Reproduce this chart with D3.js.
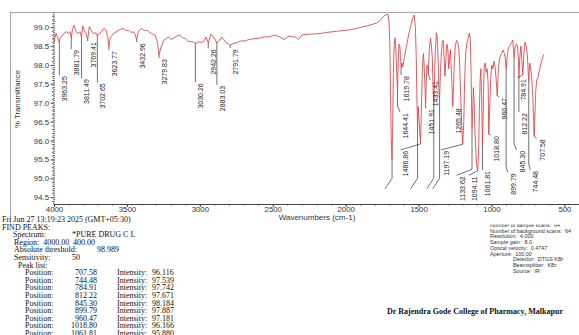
<!DOCTYPE html>
<html>
<head>
<meta charset="utf-8">
<script src="https://cdn.jsdelivr.net/npm/d3@7"></script>
<style>
  body { margin: 0; background: #fff; }
  svg { display: block; }
</style>
</head>
<body>
<script>
// ---- data ----
// spectrum trace: [wavenumber cm-1, %T]
const spectrum = [
  [4000, 98.60], [3996, 98.68], [3986, 98.84], [3977, 98.74], [3970, 98.66], [3963.25, 98.58],
  [3959, 98.71], [3947, 98.76], [3931, 98.84], [3913, 98.88], [3902, 98.83], [3890, 98.88],
  [3881.79, 98.71], [3872, 98.97], [3863, 99.05], [3849, 98.88], [3833, 98.83], [3822, 98.88],
  [3811.49, 98.74], [3803, 99.03], [3794, 98.92], [3781, 98.83], [3769.41, 98.67], [3758, 99.01],
  [3741, 98.88], [3726, 98.83], [3712, 98.85], [3702.65, 98.76], [3689, 98.83], [3673, 98.88],
  [3657, 98.97], [3643, 98.92], [3632, 98.75], [3623.77, 98.48], [3616, 98.70], [3593, 98.83],
  [3570, 98.88], [3547, 98.94], [3525, 98.97], [3505, 98.90], [3490, 98.92], [3470, 98.86],
  [3456, 98.88], [3443, 98.80], [3432.96, 98.67], [3424, 98.85], [3415, 98.92], [3398, 98.97],
  [3380, 98.90], [3364, 98.92], [3345, 98.86], [3330, 98.83], [3307, 98.79], [3291, 98.61],
  [3279.83, 98.26], [3268, 98.45], [3261, 98.52], [3246, 98.66], [3230, 98.70], [3216, 98.74],
  [3200, 98.68], [3182, 98.70], [3160, 98.76], [3136, 98.79], [3120, 98.72], [3101, 98.70],
  [3085, 98.64], [3067, 98.61], [3050, 98.62], [3030.26, 98.57], [3010, 98.61], [2990, 98.60],
  [2976, 98.61], [2957, 98.74], [2942.26, 98.57], [2925, 98.81], [2907, 98.74], [2893, 98.66],
  [2883.03, 98.58], [2870, 98.64], [2861, 98.66], [2850, 98.74], [2834, 98.66], [2815, 98.57],
  [2800, 98.55], [2791.79, 98.52], [2775, 98.56], [2759, 98.58], [2740, 98.60], [2713, 98.64],
  [2690, 98.63], [2667, 98.67], [2645, 98.68], [2621, 98.70], [2590, 98.71], [2553, 98.74],
  [2520, 98.75], [2484, 98.79], [2465, 98.76], [2450, 98.73], [2422, 98.67], [2405, 98.72],
  [2393, 98.76], [2370, 98.75], [2347, 98.74], [2335, 98.71], [2324, 98.67], [2301, 98.79],
  [2280, 98.80], [2256, 98.81], [2220, 98.82], [2176, 98.83], [2130, 98.86], [2084, 98.88],
  [2040, 98.90], [1992, 98.92], [1960, 98.94], [1924, 98.97], [1890, 99.00], [1855, 99.03],
  [1820, 99.07], [1787, 99.11], [1765, 99.17], [1752, 99.23], [1740, 99.28], [1730, 99.32],
  [1718, 99.33], [1710, 99.34], [1703, 99.15], [1697, 98.50], [1692, 97.20], [1688, 96.10],
  [1682, 95.48], [1678, 96.30], [1673, 97.80], [1667, 98.55], [1661, 98.72], [1655, 98.35],
  [1649, 97.70], [1644.41, 97.33], [1640, 98.00], [1634, 98.55], [1628, 98.48], [1624, 98.20],
  [1619.78, 97.92], [1614, 98.05], [1608, 97.95], [1600, 98.15], [1590, 98.35], [1578, 98.60],
  [1565, 98.85], [1552, 99.05], [1540, 99.25], [1530, 99.32], [1522, 99.00], [1516, 98.20],
  [1511, 97.00], [1507, 96.45], [1502, 96.90], [1496, 96.50], [1491, 96.15], [1486.86, 96.01],
  [1482, 96.60], [1477, 97.50], [1471, 98.10], [1466, 98.30], [1461, 97.90], [1456, 97.40],
  [1451.91, 96.95], [1447, 97.60], [1442, 98.00], [1437, 97.95], [1433.41, 97.78], [1429, 98.20],
  [1424, 98.55], [1418, 98.70], [1412, 98.50], [1406, 98.20], [1401, 97.40], [1396, 96.95],
  [1391, 97.60], [1385, 98.40], [1378, 98.85], [1372, 98.70], [1366, 98.10], [1361, 97.40],
  [1356, 97.10], [1350, 97.80], [1344, 98.30], [1338, 98.60], [1331, 98.65], [1325, 98.20],
  [1319, 97.70], [1313, 98.15], [1306, 98.55], [1299, 98.40], [1293, 97.90], [1288, 98.20],
  [1282, 98.40], [1277, 98.00], [1271, 97.50], [1265.48, 96.94], [1260, 97.40], [1255, 98.10],
  [1248, 98.50], [1240, 98.65], [1232, 98.60], [1226, 98.50], [1219, 98.10], [1212, 97.30],
  [1205, 96.50], [1197.19, 95.90], [1190, 96.50], [1184, 97.60], [1177, 98.30], [1168, 98.60],
  [1160, 98.70], [1152, 98.84], [1146, 98.70], [1141, 98.00], [1137, 97.00], [1133.62, 96.30],
  [1129, 96.80], [1124, 97.40], [1119, 97.00], [1113, 96.20], [1106, 95.60], [1100, 95.30],
  [1094.11, 95.20], [1088, 95.80], [1083, 96.80], [1078, 97.60], [1073, 97.90], [1068, 97.20],
  [1064, 96.30], [1061.81, 95.88], [1058, 96.50], [1054, 97.40], [1049, 98.00], [1043, 98.05],
  [1036, 97.80], [1030, 97.90], [1023, 97.50], [1018.80, 96.166], [1013, 96.80], [1006, 97.60],
  [998, 98.00], [990, 97.90], [983, 98.10], [975, 97.94], [968, 97.60], [960.47, 97.181],
  [954, 97.80], [947, 98.10], [941, 98.21], [932, 98.30], [920, 98.39], [912, 98.30],
  [906, 98.20], [899.79, 97.887], [893, 98.20], [884, 98.45], [872, 98.52], [862, 98.60],
  [854, 98.66], [849, 98.40], [845.30, 98.184], [840, 98.45], [830, 98.55], [822, 98.50],
  [815, 98.10], [812.22, 97.671], [806, 98.20], [798, 98.50], [792, 98.10], [784.91, 97.742],
  [778, 98.30], [770, 98.60], [762, 98.50], [755, 98.30], [749, 97.90], [744.48, 97.539],
  [738, 98.05], [731, 97.90], [724, 97.65], [716, 97.10], [711, 96.50], [707.58, 96.116],
  [703, 96.60], [697, 97.30], [690, 97.60], [682, 97.65], [675, 97.80], [667, 97.94],
  [660, 98.05], [655, 98.13], [648, 98.20], [642, 98.28]
];

// labelled peaks on the trace
const peakWaves = [3963.25, 3881.79, 3811.49, 3769.41, 3702.65, 3623.77, 3432.96, 3279.83,
  3030.26, 2942.26, 2883.03, 2791.79, 1644.41, 1619.78, 1486.86, 1451.91, 1433.41, 1265.48,
  1197.19, 1133.62, 1094.11, 1061.81, 1018.80, 960.47, 899.79, 845.30, 812.22, 784.91, 744.48, 707.58];
// peaks whose labels fall outside the plot (only the leader shows)
const hiddenPeaks = [1682, 1507, 1396, 1356];

// peak list printed under the chart
const listPositions = [707.58, 744.48, 784.91, 812.22, 845.30, 899.79, 960.47, 1018.80, 1061.81];
const listIntensity = [96.116, 97.539, 97.742, 97.671, 98.184, 97.887, 97.181, 96.166, 95.880];

const xTicks = [4000, 3500, 3000, 2500, 2000, 1500, 1000, 500];
const yTicks = [94.5, 95.0, 95.5, 96.0, 96.5, 97.0, 97.5, 98.0, 98.5, 99.0];

const instrument = [["Number of sample scans:", "64"], ["Number of background scans:", "64"],
  ["Resolution:", "4.000"], ["Sample gain:", "8.0"], ["Optical velocity:", "0.4747"],
  ["Aperture:", "100.00"], ["Detector:", "DTGS KBr"], ["Beamsplitter:", "KBr"], ["Source:", "IR"]];

// ---- layout (kept apart from the data) ----
// %T level where each peak label starts, and sideways shift of the label in px
const labelTopT = [97.73, 98.42, 97.65, 98.63, 97.54, 98.39, 98.60, 98.18, 97.54, 98.44, 97.47, 98.44,
  96.75, 97.73, 95.75, 96.86, 97.60, 96.88, 95.75, 95.08, 95.08, 95.22, 96.14, 97.15, 95.16, 95.75,
  96.75, 97.65, 95.22, 96.06];
const labelShift = [0, 0, 0, 0, 0, 0, 0, 0, 0, 0, 0, 0,
  2.6, 0, -20, 0, 2, 0, -22, -15.4, -8.7, 0, 2, 2, 1.5, 2.5, 0, -5.3, 1.4, 2.5];
const instX = [490, 490, 490, 490, 490, 490, 513, 513, 513];

const W = 579, H = 335;
let svg, x, y;

setupSvg();
setupScales();
drawFrame();
drawAxes();
drawSpectrum();
drawPeakLabels();
drawReport();

function setupSvg() {
  svg = d3.select("body").append("svg")
    .attr("width", W).attr("height", H)
    .style("font-family", "'Liberation Sans', Arial, sans-serif");
}

function setupScales() {
  x = d3.scaleLinear().domain([4000, 400]).range([54, 579]);
  y = d3.scaleLinear().domain([94.32, 99.40]).range([204, 12]);
}

function drawFrame() {
  svg.append("line").attr("x1", 10).attr("x2", W).attr("y1", 12.5).attr("y2", 12.5)
    .attr("stroke", "#aaa").attr("stroke-width", 1);
  svg.append("line").attr("x1", 10.5).attr("x2", 10.5).attr("y1", 12).attr("y2", 223)
    .attr("stroke", "#aaa").attr("stroke-width", 1);
}

function drawAxes() {
  // minor ticks
  const gx = svg.append("g").attr("transform", "translate(0,204)");
  gx.call(d3.axisBottom(x).tickValues(d3.range(4000, 399, -100)).tickSize(1.5).tickFormat("").tickSizeOuter(0));
  gx.append("g").call(d3.axisBottom(x).tickValues(xTicks).tickSize(3).tickPadding(-1)
    .tickFormat(d3.format("d")).tickSizeOuter(0));
  gx.selectAll("path").attr("stroke", "#444");
  gx.selectAll("line").attr("stroke", "#444");
  gx.selectAll("text").attr("font-size", 7.8).attr("fill", "#333")
    .attr("font-family", "'Liberation Sans', Arial, sans-serif");

  const gy = svg.append("g").attr("transform", "translate(53.5,0)");
  gy.call(d3.axisLeft(y).tickValues(d3.range(94.4, 99.4, 0.1)).tickSize(1.5).tickFormat("").tickSizeOuter(0));
  gy.append("g").call(d3.axisLeft(y).tickValues(yTicks).tickSize(3).tickPadding(1.5)
    .tickFormat(d3.format(".1f")).tickSizeOuter(0));
  gy.selectAll("path").attr("stroke", "#444").attr("stroke-dasharray", "1,1.2");
  gy.selectAll("line").attr("stroke", "#555");
  gy.selectAll("text").attr("font-size", 7.8).attr("fill", "#333")
    .attr("font-family", "'Liberation Sans', Arial, sans-serif");

  svg.append("text").attr("x", 317).attr("y", 220)
    .attr("text-anchor", "middle").attr("font-size", 8).attr("fill", "#333")
    .text("Wavenumbers (cm-1)");
  svg.append("text").attr("transform", "translate(19.5,99) rotate(-90)")
    .attr("text-anchor", "middle").attr("font-size", 7.8).attr("fill", "#333")
    .text("% Transmittance");
}

function drawSpectrum() {
  const line = d3.line().x(d => x(d[0])).y(d => y(d[1]));
  svg.append("path").datum(spectrum)
    .attr("d", line)
    .attr("fill", "none")
    .attr("stroke", "#dc3439")
    .attr("stroke-width", 0.8)
    .attr("stroke-linejoin", "round");
}

function drawPeakLabels() {
  const tAt = new Map(spectrum.map(d => [d[0], d[1]]));
  const g = svg.append("g");
  const leader = d3.line();

  peakWaves.forEach(function(w, i) {
    const px = x(w), py = y(tAt.get(w));
    const top = y(labelTopT[i]);
    const lx = px + labelShift[i];
    const knee = labelShift[i] === 0 ? top : Math.max(py, top - 6);
    g.append("path")
      .attr("d", leader([[px, py], [px, knee], [lx, top]]))
      .attr("fill", "none").attr("stroke", "#333").attr("stroke-width", 0.7);
    g.append("text")
      .attr("transform", "translate(" + (lx + 8) + "," + (top + 1) + ") rotate(-90)")
      .attr("text-anchor", "end")
      .attr("font-size", 7).attr("fill", "#222")
      .text(w.toFixed(2));
  });

  hiddenPeaks.forEach(function(w) {
    const px = x(w), py = y(tAt.get(w));
    g.append("path")
      .attr("d", leader([[px, py], [px, y(95.0)], [px - 7, y(94.72)]]))
      .attr("fill", "none").attr("stroke", "#333").attr("stroke-width", 0.7);
  });
}

function drawReport() {
  const serif = "'Liberation Serif', 'Times New Roman', serif";
  const g = svg.append("g").attr("font-family", serif).attr("font-size", 8).attr("fill", "#111");
  const base = 222, lh = 7.6;
  const rows = [
    [[2, "Fri Jun 27 13:19:23 2025 (GMT+05:30)"]],
    [[2, "FIND PEAKS:"]],
    [[13, "Spectrum:"], [72, "*PURE DRUG C L"]],
    [[14, "Region:  4000.00"], [73, "400.00"]],
    [[14, "Absolute threshold:"], [97, "98.989"]],
    [[14, "Sensitivity:"], [72, "50"]],
    [[18, "Peak list:"]]
  ];
  rows.forEach(function(r, i) {
    r.forEach(function(c) {
      g.append("text").attr("x", c[0]).attr("y", base + i * lh)
        .attr("xml:space", "preserve").text(c[1]);
    });
  });
  listPositions.forEach(function(p, i) {
    const yy = base + (rows.length + i) * lh;
    g.append("text").attr("x", 25).attr("y", yy).text("Position:");
    g.append("text").attr("x", 97).attr("y", yy).attr("text-anchor", "end").text(p.toFixed(2));
    g.append("text").attr("x", 117).attr("y", yy).text("Intensity:");
    g.append("text").attr("x", 152).attr("y", yy).text(listIntensity[i].toFixed(3));
  });

  // instrument settings, top line cut off
  svg.append("clipPath").attr("id", "instClip")
    .append("rect").attr("x", 480).attr("y", 224.5).attr("width", 100).attr("height", 60);
  const gi = svg.append("g").attr("clip-path", "url(#instClip)")
    .attr("font-size", 5.4).attr("fill", "#333");
  instrument.forEach(function(d, i) {
    gi.append("text").attr("x", instX[i]).attr("y", 227 + i * 5.7)
      .text(d[0] + "\u00a0\u00a0" + d[1]);
  });

  svg.append("text").attr("x", 387).attr("y", 314)
    .attr("font-family", serif).attr("font-weight", 900).attr("font-size", 9)
    .attr("textLength", 176).attr("lengthAdjust", "spacingAndGlyphs")
    .attr("fill", "#111")
    .text("Dr Rajendra Gode College of Pharmacy, Malkapur");
}
</script>
</body>
</html>
